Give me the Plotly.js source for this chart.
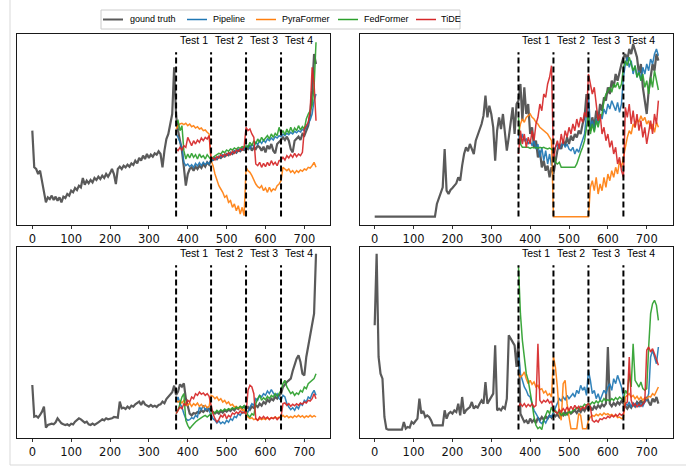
<!DOCTYPE html>
<html><head><meta charset="utf-8">
<script src="https://cdn.plot.ly/plotly-3.0.1.min.js"></script>
<style>html,body{margin:0;padding:0;background:#fff}#chart{width:686px;height:468px}</style>
</head><body><div id="chart"></div>
<script>
// ---- day indexing ----
const STEP = 5;            // days between samples
const TRUTH_START = 0;
const TEST_START = 370;
const splits = [370, 460, 550, 640];
const testLabels = ['Test 1', 'Test 2', 'Test 3', 'Test 4'];
const testLabelDays = [415, 505, 595, 685];
const tickDays = [0, 100, 200, 300, 400, 500, 600, 700];
const seriesNames = ['gound truth', 'Pipeline', 'PyraFormer', 'FedFormer', 'TiDE'];
const seriesColors = ['#5a5a5a', '#1f77b4', '#ff7f0e', '#2ca02c', '#d62728'];

// ---- top-left panel ----
const tl_truth = [283,173,168,153,163,133,93,68,83,78,88,75,85,73,83,68,85,81,93,88,
103,98,111,105,118,113,141,121,133,125,135,128,141,135,145,138,148,141,153,145,
155,168,153,123,168,175,168,178,173,181,175,185,180,193,185,201,193,208,198,213,
201,211,205,215,211,221,213,173,223,258,273,303,333,473,328,283,253,223,173,118,
153,168,173,163,175,168,178,171,183,175,188,181,193,195,201,197,205,201,208,205,
213,209,217,213,221,217,225,221,228,225,233,228,238,223,233,228,238,233,223,235,
218,238,228,243,223,215,243,248,255,263,255,265,253,228,218,253,258,265,255,273,
268,283,298,333,403,513,483];
const tl_pipeline = [273,263,248,233,188,178,183,175,181,173,185,177,187,178,188,181,188,183,
198,195,201,198,205,203,211,207,213,211,218,215,223,219,227,223,231,227,
233,238,228,243,235,248,241,253,245,255,248,258,253,261,255,265,261,268,
265,273,268,275,271,278,273,281,277,283,279,287,283,293,303,315,333,373,393];
const tl_pyra = [288,298,303,305,301,305,298,303,295,298,291,295,288,291,283,285,278,273,
193,178,153,133,118,108,98,83,88,68,73,53,63,43,58,33,53,28,
173,163,158,148,133,123,115,111,118,103,111,98,113,101,108,105,118,123,
133,173,168,163,168,158,163,155,163,158,165,161,168,165,173,171,178,188,173];
const tl_fed = [308,313,283,298,223,198,213,201,215,203,211,198,213,203,208,198,211,201,
195,203,208,211,215,213,221,217,225,221,228,225,231,227,233,230,235,233,
238,233,248,238,253,243,258,248,263,253,261,268,258,273,263,275,268,293,
273,283,271,288,275,293,278,291,283,298,285,295,288,318,333,343,358,413,548];
const tl_tide = [228,223,233,225,238,233,263,248,238,253,243,255,248,261,253,263,258,268,
198,201,195,205,201,211,205,213,208,217,211,221,215,225,221,228,225,233,
293,283,288,273,263,183,178,188,173,185,175,188,178,193,181,188,178,193,
195,203,195,208,201,211,203,215,205,213,208,218,288,298,308,343,473,423,313];

// ---- top-right panel ----
const tr_truth = [25,25,25,25,25,25,25,25,25,25,25,25,25,25,25,25,25,25,25,25,25,25,25,25,25,25,25,25,25,25,25,25,
63,78,98,113,228,103,93,105,111,118,125,143,133,178,213,233,221,243,228,213,253,268,283,303,328,388,323,358,333,293,
193,283,323,288,333,273,223,263,318,353,273,363,373,
423,313,413,333,363,273,293,233,253,203,223,173,193,163,178,143,173,
153,193,223,243,228,253,238,263,243,268,253,273,263,283,273,303,323,393,
313,283,323,293,343,313,363,343,383,373,413,393,433,413,453,433,463,483,
503,513,493,528,513,543,523,503,453,483,413,373,333,403,443,483,463,513,493];
const tr_pipeline = [273,243,273,253,258,243,253,238,253,228,243,203,233,193,223,183,213,178,
223,233,243,228,238,248,233,243,228,223,233,213,228,218,238,253,273,333,
393,293,313,283,318,303,333,318,348,333,363,348,373,358,343,368,338,363,
443,483,503,473,493,453,478,443,463,433,473,453,483,463,498,483,513,528,508];
const tr_pyra = [273,303,318,308,323,328,333,323,318,308,303,293,288,283,278,273,263,253,
25,25,25,25,25,25,25,25,25,25,25,25,25,25,25,25,25,25,25,
113,133,103,143,93,123,103,143,113,153,133,163,143,173,153,193,173,203,
243,263,283,273,303,293,318,308,328,313,323,303,313,288,303,278,308,293];
const tr_fed = [323,243,233,233,231,233,230,233,231,233,230,233,231,233,230,228,231,228,
223,188,183,188,173,173,173,173,173,173,173,173,183,203,218,233,253,293,
333,273,303,278,313,293,323,333,373,393,403,413,398,423,413,428,408,423,
473,493,478,503,483,463,478,443,458,433,453,413,433,393,443,413,463,433,405];
const tr_tide = [213,283,243,273,233,263,243,283,253,303,323,363,343,393,383,423,443,478,
193,233,253,228,273,243,283,263,293,273,303,283,318,293,323,308,338,323,
453,423,393,413,353,313,333,273,293,253,273,233,253,213,233,183,203,163,
143,353,323,363,303,343,293,333,283,313,263,293,243,283,313,273,333,303,373];

// ---- bottom-left panel ----
const bl_truth = [159,64,66,61,69,79,94,31,39,41,43,41,47,59,51,44,41,39,41,37,
43,41,49,54,59,56,51,46,49,41,39,43,39,44,47,51,56,53,59,56,
57,59,63,61,61,109,89,91,87,94,89,97,94,101,104,109,99,111,101,97,
94,99,94,97,93,99,101,109,104,117,124,131,137,157,129,139,161,154,164,119,
99,73,68,75,73,78,75,83,78,85,81,88,
83,78,73,78,73,81,76,83,79,85,81,88,83,91,87,93,89,95,
88,93,85,95,90,98,93,103,97,108,103,115,109,118,113,123,118,128,
133,153,161,168,173,178,201,218,238,248,228,193,188,243,273,313,333,373,553];
const bl_pipeline = [108,123,103,93,73,58,53,55,61,58,68,63,93,85,98,83,93,81,
73,58,53,45,51,43,48,43,53,47,58,53,65,61,73,68,78,75,
81,78,93,103,98,118,113,128,123,133,128,141,133,145,135,128,133,118,
113,128,123,103,93,85,91,83,95,88,103,98,113,108,123,118,133,143,128];
const bl_pyra = [113,108,111,105,113,103,98,105,95,103,98,105,95,101,93,98,91,95,
128,125,118,123,113,118,108,113,103,108,98,101,93,95,88,91,83,85,
68,63,58,61,55,58,53,58,55,59,55,60,57,61,58,63,59,63,
61,68,63,67,61,65,61,67,63,68,63,67,61,66,63,68,63,67,63];
const bl_fed = [73,83,103,123,133,53,38,28,35,43,48,53,58,63,65,68,63,68,
73,78,75,83,78,85,81,87,83,88,85,91,87,93,89,95,91,97,
83,68,63,73,68,103,118,128,113,121,115,125,118,128,123,133,125,135,
143,163,173,153,143,133,138,128,135,131,143,138,153,148,163,168,173,178,193];
const bl_tide = [73,83,93,88,103,98,113,108,123,118,133,128,138,131,135,128,133,125,
93,73,58,48,55,68,63,73,58,68,63,75,71,78,73,81,75,78,
73,143,158,153,133,58,53,63,58,65,58,63,55,61,58,63,55,61,
63,103,105,98,103,95,101,97,103,98,105,101,108,105,113,111,118,133,118];

// ---- bottom-right panel ----
const br_truth = [338,553,243,193,178,63,28,25,25,25,25,25,25,25,25,48,28,33,31,48,
43,51,58,118,73,81,63,68,63,53,38,38,38,38,38,38,83,58,73,78,
73,83,78,103,68,123,73,83,88,93,108,88,95,91,103,113,103,168,103,113,
123,133,278,83,88,83,93,88,118,308,298,288,278,213,293,73,58,48,53,43,
58,48,55,45,61,53,63,55,65,58,68,61,73,65,71,63,75,68,78,71,
81,73,78,83,75,85,78,88,81,93,85,93,83,95,88,98,91,101,95,103,
273,103,95,105,98,108,101,111,103,95,88,98,91,103,95,108,101,113,103,111,
123,108,98,118,108,123,103];
const br_pipeline = [253,193,173,153,143,128,123,103,83,73,63,48,43,53,45,58,68,63,
78,93,103,118,111,123,115,128,118,125,133,123,143,133,158,143,153,128,
203,173,133,143,118,133,113,128,143,133,153,163,143,178,163,188,173,153,
123,103,98,108,93,103,95,105,93,103,95,108,113,133,243,263,243,223,273];
const br_pyra = [193,183,188,198,178,163,173,161,168,153,158,145,148,135,141,128,133,123,
243,213,153,73,53,163,173,103,63,28,28,28,28,73,68,28,28,28,
53,63,68,65,71,67,73,68,75,70,73,68,71,65,68,61,63,58,
61,123,128,133,123,128,118,125,115,123,113,121,118,125,123,133,128,143,153];
const br_fed = [513,373,293,233,193,173,143,103,63,38,28,33,25,53,68,83,73,93,
78,83,73,78,68,75,68,73,78,75,83,85,91,88,95,93,101,98,
103,101,108,103,111,105,113,108,118,111,115,111,118,113,121,115,123,118,
113,143,133,193,153,283,173,163,153,168,148,143,148,273,373,403,413,398,353];
const br_tide = [93,103,95,103,93,101,95,103,93,98,283,113,105,113,108,115,105,111,
83,78,73,85,78,88,81,93,83,95,85,98,88,95,85,93,88,98,
103,93,53,48,53,48,58,55,61,58,65,61,68,63,71,65,73,68,
73,103,108,243,113,95,103,93,101,95,103,108,263,273,258,268,253,238,218];

// ---- build ----
function days(start, n) { const a = []; for (let i = 0; i < n; i++) a.push(start + i * STEP); return a; }

const panels = [
  {truth: tl_truth, models: [tl_pipeline, tl_pyra, tl_fed, tl_tide]},
  {truth: tr_truth, models: [tr_pipeline, tr_pyra, tr_fed, tr_tide]},
  {truth: bl_truth, models: [bl_pipeline, bl_pyra, bl_fed, bl_tide]},
  {truth: br_truth, models: [br_pipeline, br_pyra, br_fed, br_tide]}
];

const W = 686, H = 468;
const px = v => v / W, py = v => 1 - v / H;
const xDomains = [[17.3, 330], [359.7, 673], [17.3, 330], [359.7, 673]];
const yDomains = [[34, 225], [34, 225], [247, 438], [247, 438]];
const xRanges = [[-38.6, 766], [-38.6, 767.6], [-38.6, 766], [-38.6, 767.6]];

const traces = [];
const shapes = [];
const annotations = [];
const layout = {
  width: W, height: H, margin: {l: 0, r: 0, t: 0, b: 0},
  paper_bgcolor: '#fff', plot_bgcolor: '#fff', showlegend: false,
  font: {family: 'DejaVu Sans', color: '#000'}
};

panels.forEach((p, k) => {
  const xa = k === 0 ? 'x' : 'x' + (k + 1);
  const ya = k === 0 ? 'y' : 'y' + (k + 1);
  traces.push({x: days(TRUTH_START, p.truth.length), y: p.truth, xaxis: xa, yaxis: ya,
    type: 'scatter', mode: 'lines', name: seriesNames[0],
    line: {color: seriesColors[0], width: 2.2}, hoverinfo: 'skip'});
  p.models.forEach((m, j) => {
    traces.push({x: days(TEST_START, m.length), y: m, xaxis: xa, yaxis: ya,
      type: 'scatter', mode: 'lines', name: seriesNames[j + 1], opacity: 0.92,
      line: {color: seriesColors[j + 1], width: 1.5}, hoverinfo: 'skip'});
  });
  const xk = k === 0 ? 'xaxis' : 'xaxis' + (k + 1);
  const yk = k === 0 ? 'yaxis' : 'yaxis' + (k + 1);
  layout[xk] = {domain: [px(xDomains[k][0]), px(xDomains[k][1])], range: xRanges[k], anchor: ya,
    tickvals: tickDays, ticks: 'outside', ticklen: 3.5, tickwidth: 0.8, tickcolor: '#000',
    showline: true, linecolor: '#000', linewidth: 0.9, mirror: true, showgrid: false, zeroline: false,
    tickfont: {family: 'DejaVu Sans', size: 11.5, color: '#111'}};
  layout[yk] = {domain: [py(yDomains[k][1]), py(yDomains[k][0])], range: [0, 573], anchor: xa,
    showticklabels: false, ticks: '', showline: true, linecolor: '#000', linewidth: 0.9,
    mirror: true, showgrid: false, zeroline: false};
  splits.forEach(s => shapes.push({type: 'line', xref: xa, yref: ya + ' domain', x0: s, x1: s,
    y0: 0.045, y1: 0.905, line: {color: '#000', width: 2, dash: '6px,3px'}}));
  testLabels.forEach((t, i) => annotations.push({x: testLabelDays[i], y: 0.966, xref: xa,
    yref: ya + ' domain', text: t, showarrow: false, xanchor: 'center', yanchor: 'middle',
    font: {family: 'Liberation Sans', size: 10.5, color: '#000'}}));
});

// legend box (drawn manually)
shapes.push({type: 'rect', xref: 'paper', yref: 'paper', x0: px(101), x1: px(460), y0: py(29), y1: py(10),
  line: {color: '#cccccc', width: 1}, fillcolor: 'rgba(255,255,255,0.8)'});
const legLineX = [103, 187, 256, 338, 416];
const legTextX = [128, 211, 280, 362, 439];
seriesNames.forEach((n, i) => {
  shapes.push({type: 'line', xref: 'paper', yref: 'paper', x0: px(legLineX[i]), x1: px(legLineX[i] + 20),
    y0: py(19.5), y1: py(19.5), line: {color: seriesColors[i], width: i === 0 ? 2 : 1.5}});
  annotations.push({x: px(legTextX[i]), y: py(19.5), xref: 'paper', yref: 'paper', text: n,
    showarrow: false, xanchor: 'left', yanchor: 'middle',
    font: {family: 'Liberation Sans', size: 9, color: '#000'}});
});
// faint frame of the figure image
shapes.push({type: 'line', xref: 'paper', yref: 'paper', x0: px(10), x1: px(10), y0: py(465), y1: 1,
  line: {color: '#d9d9d9', width: 1}});
shapes.push({type: 'line', xref: 'paper', yref: 'paper', x0: px(10), x1: 1, y0: py(465), y1: py(465),
  line: {color: '#d9d9d9', width: 1}});

layout.shapes = shapes;
layout.annotations = annotations;
Plotly.newPlot('chart', traces, layout, {staticPlot: true, displayModeBar: false});
</script></body></html>
